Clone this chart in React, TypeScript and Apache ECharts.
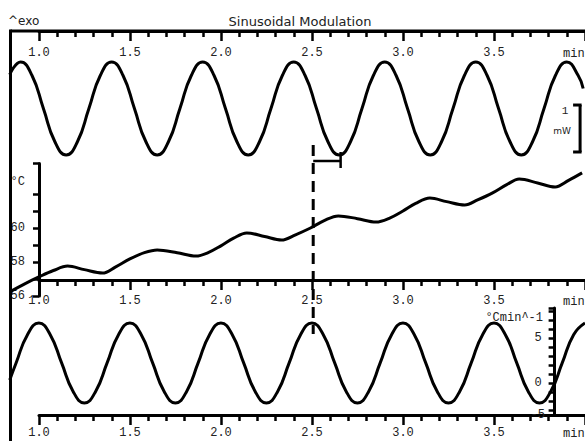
import { useEffect, useRef } from "react";
import * as echarts from "echarts";

// ---------- texts ----------
const TITLE = "Sinusoidal Modulation";
const EXO_LABEL = "^exo";
const TIME_UNIT = "min";
const HEAT_UNIT = "mW";
const HEAT_SCALE_LABEL = "1";
const TEMP_UNIT = "°C";
const RATE_UNIT = "°Cmin^-1";
const RATE_LOW_LABEL = "-5";

// ---------- data ----------
// heat flow (mW, relative), top curve
const heatTime = [0.84, 0.9, 0.9625, 1.025, 1.0875, 1.15, 1.2125, 1.275, 1.3375,
  1.4, 1.4625, 1.525, 1.5875, 1.65, 1.7125, 1.775, 1.8375,
  1.9, 1.9625, 2.025, 2.0875, 2.15, 2.2125, 2.275, 2.3375,
  2.4, 2.4625, 2.525, 2.5875, 2.65, 2.7125, 2.775, 2.8375,
  2.9, 2.9625, 3.025, 3.0875, 3.15, 3.2125, 3.275, 3.3375,
  3.4, 3.4625, 3.525, 3.5875, 3.65, 3.7125, 3.775, 3.8375,
  3.9, 3.9625, 3.99];
const heatFlow = [0.73, 1.0, 0.71, 0, -0.71, -1.0, -0.71, 0, 0.71,
  1.0, 0.71, 0, -0.71, -1.0, -0.71, 0, 0.71,
  1.0, 0.71, 0, -0.71, -1.0, -0.71, 0, 0.71,
  1.0, 0.71, 0, -0.71, -1.0, -0.71, 0, 0.71,
  1.0, 0.71, 0, -0.71, -1.0, -0.71, 0, 0.71,
  1.0, 0.71, 0, -0.71, -1.0, -0.71, 0, 0.71,
  1.0, 0.71, 0.43];

// sample temperature (°C), middle curve
const tempTime = [0.84, 0.92, 1.0, 1.08, 1.158, 1.25, 1.35, 1.42, 1.5, 1.58, 1.65,
  1.76, 1.863, 1.93, 2.0, 2.07, 2.142, 2.24, 2.333, 2.41, 2.492, 2.57, 2.645,
  2.75, 2.852, 2.93, 3.0, 3.07, 3.148, 3.24, 3.339, 3.41, 3.49, 3.57, 3.639,
  3.74, 3.836, 3.91, 3.984];
const temperature = [56.24, 56.7, 57.12, 57.5, 57.76, 57.55, 57.35, 57.7, 58.18, 58.55, 58.71,
  58.55, 58.35, 58.55, 58.95, 59.4, 59.71, 59.5, 59.29, 59.6, 60.0, 60.45, 60.71,
  60.55, 60.35, 60.6, 61.0, 61.45, 61.76, 61.55, 61.35, 61.65, 62.05, 62.55, 62.88,
  62.65, 62.41, 62.8, 63.24];

// heating rate (°C/min), bottom curve
const rateTime = [0.84, 0.875, 0.9375, 1.0, 1.0625, 1.125, 1.1875, 1.25, 1.3125,
  1.375, 1.4375, 1.5, 1.5625, 1.625, 1.6875, 1.75, 1.8125,
  1.875, 1.9375, 2.0, 2.0625, 2.125, 2.1875, 2.25, 2.3125,
  2.375, 2.4375, 2.5, 2.5625, 2.625, 2.6875, 2.75, 2.8125,
  2.875, 2.9375, 3.0, 3.0625, 3.125, 3.1875, 3.25, 3.3125,
  3.375, 3.4375, 3.5, 3.5625, 3.625, 3.6875, 3.75, 3.8125,
  3.875, 3.9375, 4.0];
const heatingRate = [0.34, 2.23, 5.37, 6.67, 5.37, 2.23, -0.91, -2.21, -0.91,
  2.23, 5.37, 6.67, 5.37, 2.23, -0.91, -2.21, -0.91,
  2.23, 5.37, 6.67, 5.37, 2.23, -0.91, -2.21, -0.91,
  2.23, 5.37, 6.67, 5.37, 2.23, -0.91, -2.21, -0.91,
  2.23, 5.37, 6.67, 5.37, 2.23, -0.91, -2.21, -0.91,
  2.23, 5.37, 6.67, 5.37, 2.23, -0.91, -2.21, -0.91,
  2.23, 5.37, 6.67];

// axis ticks / labels
const tempTicks = [56, 57, 58, 59, 60, 61, 62, 63.8];
const tempLabels = [56, 58, 60];
const rateTicks = [-3, -2, -1, 0, 1, 2, 3, 4, 5, 6, 7, 8, 8.333];
const rateLabels = [0, 5];
const markerTime = 2.5;      // dashed reference line
const lagEndTime = 2.65;     // heat-flow minimum after the marker

// ---------- layout ----------
const W = 585;
const H = 441;
const X_LEFT = 39;
const PX_PER_MIN = 182.8;
const T_MIN = 1.0;      // first labelled time
const T_DATA_MIN = 0.8; // left end of the data grids
const T_MAX = 4.0;
const FRAME_X = 10.5;
const FRAME_Y = 31;

const HEAT_MIN = -1.5, HEAT_MAX = 1.667, HEAT_PX = 46.5;
const TEMP_MIN = 56, TEMP_MAX = 63.8, TEMP_PX = 17;
const TEMP_BOTTOM = 296;
const RATE_MIN = -3.556, RATE_MAX = 8.333, RATE_PX = 9;
const RATE_TOP = 308;

const xOf = (t: number) => X_LEFT + (t - T_MIN) * PX_PER_MIN;
const yHeat = (v: number) => FRAME_Y + (HEAT_MAX - v) * HEAT_PX;

const MONO = '"Liberation Mono", "DejaVu Sans Mono", monospace';
const SANS = '"DejaVu Sans", "Liberation Sans", sans-serif';
const INK = "#000";
const LABEL_INK = "#222";

const zip = (a: number[], b: number[]) => a.map((v, i) => [v, b[i]]);
const fmtTime = (v: number) => (v >= T_MAX - 0.01 ? "" : v.toFixed(1));

const HEAT_H = (HEAT_MAX - HEAT_MIN) * HEAT_PX;
const TEMP_H = (TEMP_MAX - TEMP_MIN) * TEMP_PX;
const TEMP_TOP = TEMP_BOTTOM - TEMP_H;
const RATE_H = (RATE_MAX - RATE_MIN) * RATE_PX;

const dataGrid = (top: number, height: number) => ({
  left: xOf(T_DATA_MIN),
  width: (T_MAX - T_DATA_MIN) * PX_PER_MIN,
  top,
  height,
});
const axisGrid = (top: number, height: number) => ({
  left: X_LEFT,
  width: (T_MAX - T_MIN) * PX_PER_MIN,
  top,
  height,
});

function hiddenX(gridIndex: number, min: number) {
  return { type: "value", gridIndex, min, max: T_MAX, show: false, axisLine: { onZero: false }, splitLine: { show: false } };
}
function hiddenY(gridIndex: number, min: number, max: number) {
  return { type: "value", gridIndex, min, max, show: false, axisLine: { onZero: false }, splitLine: { show: false } };
}

function timeAxis(gridIndex: number, position: string, opts: any) {
  return {
    type: "value",
    gridIndex,
    position,
    min: T_MIN,
    max: T_MAX,
    interval: 0.5,
    offset: opts.offset || 0,
    axisLine: { show: true, onZero: false, lineStyle: { color: INK, width: 3 } },
    axisTick: { show: true, inside: opts.inside, length: 10, lineStyle: { color: INK, width: 2.5 } },
    minorTick: { show: true, splitNumber: 5, length: 6, lineStyle: { color: INK, width: 2.5 } },
    axisLabel: {
      show: true,
      inside: opts.inside,
      margin: opts.margin,
      formatter: fmtTime,
      fontFamily: MONO,
      fontSize: 12,
      color: LABEL_INK,
      showMaxLabel: false,
    },
    splitLine: { show: false },
    minorSplitLine: { show: false },
  };
}

export default function App() {
  const ref = useRef<HTMLDivElement>(null);

  useEffect(() => {
    if (!ref.current) return;
    const chart = echarts.init(ref.current, undefined, { renderer: "svg" });

    const lineSeries = (name: string, data: number[][], xi: number, yi: number, smooth: any) => ({
      name,
      type: "line",
      xAxisIndex: xi,
      yAxisIndex: yi,
      data,
      smooth,
      showSymbol: false,
      symbol: "none",
      clip: false,
      lineStyle: { color: INK, width: 3 },
      z: 3,
    });

    const text = (t: string, x: number, y: number, font: string, size: number, align = "left") => ({
      type: "text",
      x,
      y,
      silent: true,
      z: 10,
      style: { text: t, fill: LABEL_INK, fontFamily: font, fontSize: size, align, verticalAlign: "middle" },
    });
    const seg = (x1: number, y1: number, x2: number, y2: number, width: number, dash?: number[]) => ({
      type: "line",
      silent: true,
      z: 10,
      shape: { x1, y1, x2, y2 },
      style: { stroke: INK, lineWidth: width, lineDash: dash || null },
    });

    const mx = xOf(markerTime);
    const lx = xOf(lagEndTime);
    const barX = xOf(3.96);
    const barTop = yHeat(0.075);
    const barBot = yHeat(-0.935);

    chart.setOption({
      animation: false,
      backgroundColor: "#fff",
      grid: [
        dataGrid(FRAME_Y, HEAT_H),
        dataGrid(TEMP_TOP, TEMP_H),
        dataGrid(RATE_TOP, RATE_H),
        axisGrid(FRAME_Y, HEAT_H),
        axisGrid(TEMP_TOP, TEMP_H),
        axisGrid(RATE_TOP, RATE_H),
      ],
      xAxis: [
        hiddenX(0, T_DATA_MIN),
        hiddenX(1, T_DATA_MIN),
        hiddenX(2, T_DATA_MIN),
        timeAxis(3, "top", { inside: true, margin: 16 }),
        hiddenX(4, T_MIN),
        timeAxis(5, "top", { inside: true, margin: 15, offset: RATE_TOP - 280 }),
        timeAxis(5, "bottom", { inside: false, margin: 12 }),
      ],
      yAxis: [
        hiddenY(0, HEAT_MIN, HEAT_MAX),
        hiddenY(1, TEMP_MIN, TEMP_MAX),
        hiddenY(2, RATE_MIN, RATE_MAX),
        hiddenY(3, HEAT_MIN, HEAT_MAX),
        {
          type: "value",
          gridIndex: 4,
          position: "left",
          min: TEMP_MIN,
          max: TEMP_MAX,
          axisLine: { show: true, onZero: false, lineStyle: { color: INK, width: 3 } },
          axisTick: { show: true, inside: false, length: 6, customValues: tempTicks, lineStyle: { color: INK, width: 2.5 } },
          axisLabel: {
            show: true,
            margin: 14,
            customValues: tempLabels,
            formatter: (v: number) => String(v),
            fontFamily: MONO,
            fontSize: 12,
            color: LABEL_INK,
          },
          splitLine: { show: false },
        },
        {
          type: "value",
          gridIndex: 5,
          position: "right",
          offset: -30.4,
          min: RATE_MIN,
          max: RATE_MAX,
          axisLine: { show: true, onZero: false, lineStyle: { color: INK, width: 3 } },
          axisTick: { show: true, inside: true, length: 6, customValues: rateTicks, lineStyle: { color: INK, width: 2.5 } },
          axisLabel: {
            show: true,
            inside: true,
            margin: 13,
            customValues: rateLabels,
            formatter: (v: number) => String(v),
            fontFamily: MONO,
            fontSize: 12,
            color: LABEL_INK,
          },
          splitLine: { show: false },
        },
      ],
      series: [
        lineSeries("Heat flow", zip(heatTime, heatFlow), 0, 0, 0.5),
        lineSeries("Temperature", zip(tempTime, temperature), 1, 1, 0.35),
        lineSeries("Heating rate", zip(rateTime, heatingRate), 2, 2, 0.5),
      ],
      graphic: [
        seg(FRAME_X, FRAME_Y, W, FRAME_Y, 3),
        seg(FRAME_X, FRAME_Y - 1.5, FRAME_X, H, 3),
        text(EXO_LABEL, 8, 21, SANS, 12),
        text(TITLE, 300, 21, SANS, 13, "center"),
        text(TIME_UNIT, 563, 54, MONO, 12),
        text(TIME_UNIT, 563, 302, MONO, 12),
        text(TIME_UNIT, 563, 434, MONO, 12),
        text(TEMP_UNIT, 25, 182, MONO, 12, "right"),
        text(RATE_UNIT, 543, 318, MONO, 12, "right"),
        text(RATE_LOW_LABEL, 545, 415, MONO, 12, "right"),
        // 1 mW scale bar
        seg(barX, barTop, barX, barBot, 3),
        seg(barX - 7, barTop, barX + 1.5, barTop, 3),
        seg(barX - 7, barBot, barX + 1.5, barBot, 3),
        text(HEAT_SCALE_LABEL, 565, 111, MONO, 11, "center"),
        text(HEAT_UNIT, 562, 131, SANS, 9, "center"),
        // dashed reference line and lag marker
        seg(mx, 145, mx, 334, 3, [11, 7]),
        seg(mx, 161, lx, 161, 2.5),
        seg(lx, 152, lx, 168, 2.5),
      ],
    });

    return () => chart.dispose();
  }, []);

  return (
    <div
      ref={ref}
      style={{ position: "absolute", left: 0, top: 0, width: W, height: H, background: "#fff" }}
    />
  );
}
